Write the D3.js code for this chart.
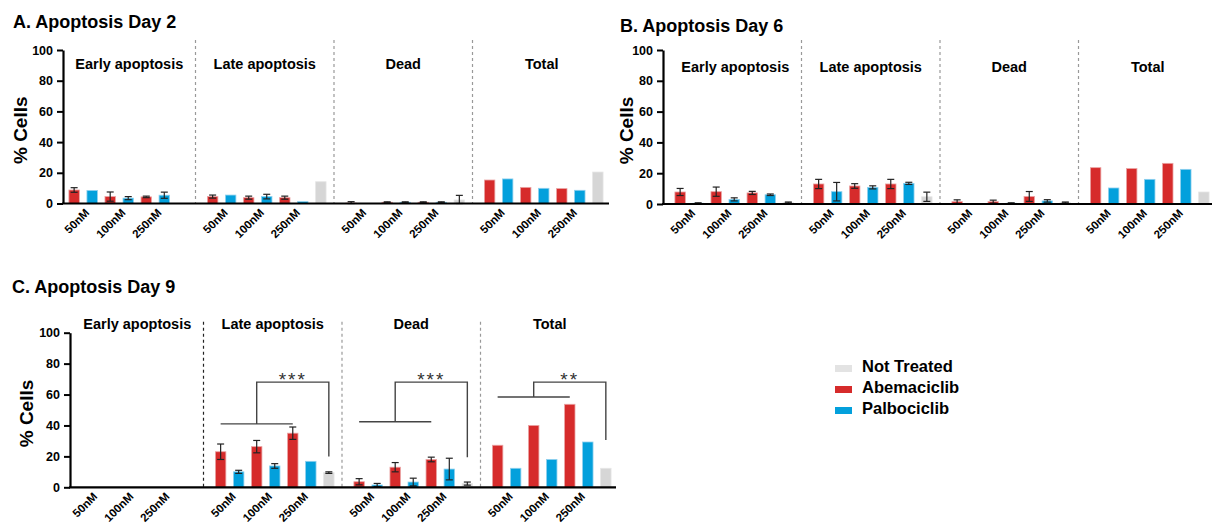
<!DOCTYPE html>
<html>
<head>
<meta charset="utf-8">
<script src="https://cdn.jsdelivr.net/npm/d3@7"></script>
<style>
  body { margin: 0; background: #fff; }
  svg { font-family: "Liberation Sans", Arial, sans-serif; }
</style>
</head>
<body>
<div id="chart"></div>
<script>
// categories
const groups = ["Early apoptosis", "Late apoptosis", "Dead", "Total"];
const doses = ["50nM", "100nM", "250nM"];
const seriesNames = ["Not Treated", "Abemaciclib", "Palbociclib"];
const yTicks = [0, 20, 40, 60, 80, 100];

// Day 2 (per group: 50nM, 100nM, 250nM)
const day2Abema = [[8.8, 4.5, 4.3], [4.5, 3.8, 3.8], [0.3, 0.8, 0.8], [15.3, 10.5, 9.7]];
const day2AbemaErr = [[1.5, 3, 0.5], [1, 1, 1], [0.9, 0.3, 0.3], [0, 0, 0]];
const day2Palbo = [[8.5, 3.5, 5.4], [5.5, 4.5, 1.2], [0, 0.8, 0.8], [16, 9.9, 8.6]];
const day2PalboErr = [[0, 1, 2], [0, 1.5, 0], [0, 0.3, 0.3], [0, 0, 0]];
const day2NT = [0, 14.2, 2.3, 20.5];
const day2NTErr = [0, 0, 3, 0];

// Day 6
const day6Abema = [[7.8, 8, 7.2], [13, 11.7, 13], [1.5, 1.5, 4.9], [23.6, 23, 26.4]];
const day6AbemaErr = [[2.3, 3, 1], [3, 1.5, 3], [1.2, 1, 3.2], [0, 0, 0]];
const day6Palbo = [[0.5, 3, 6], [8, 10.8, 13.4], [0, 0.5, 2], [10.4, 16, 22.5]];
const day6PalboErr = [[0.3, 1, 0.5], [6, 1, 0.7], [0, 0.3, 0.8], [0, 0, 0]];
const day6NT = [1, 4.7, 1, 7.8];
const day6NTErr = [0.3, 3, 0.3, 0];

// Day 9
const day9Abema = [[0, 0, 0], [23, 26.3, 35], [3.6, 13, 18], [27.2, 40, 53.7]];
const day9AbemaErr = [[0, 0, 0], [5, 4, 4], [2, 3, 1.5], [0, 0, 0]];
const day9Palbo = [[0, 0, 0], [10, 13.8, 16.8], [1.5, 3.4, 11.8], [12.3, 18, 29.3]];
const day9PalboErr = [[0, 0, 0], [1, 1.5, 0], [1, 2.5, 7], [0, 0, 0]];
const day9NT = [0, 9.5, 2.4, 12.3];
const day9NTErr = [0, 0.5, 1, 0];

// Day 9 significance brackets
const bracketGroups = ["Late apoptosis", "Dead", "Total"];
const bracketLeft = [41, 42.4, 58.4];
const bracketTop = [68, 68, 68];
const bracketRight = [20, 19.4, 30.6];
const bracketStars = ["***", "***", "**"];

const color = { "Not Treated": "#d6d6d6", "Abemaciclib": "#d62b2b", "Palbociclib": "#03a0dc" };
const edge = { "Not Treated": "#e6e6e6", "Abemaciclib": "#eaa3a3", "Palbociclib": "#8fd0ee" };

const panels = [
  { title: "A. Apoptosis Day 2", titleX: 13, titleY: 28, axisX: 63, x0: 57, x1: 611, xEnd: 609,
    yTop: 50, yBottom: 203.5, labelY: 68.5, sepTop: 40, yLabelX: 27,
    abema: day2Abema, abemaErr: day2AbemaErr, palbo: day2Palbo, palboErr: day2PalboErr, nt: day2NT, ntErr: day2NTErr },
  { title: "B. Apoptosis Day 6", titleX: 620, titleY: 32, axisX: 663, x0: 663, x1: 1217, xEnd: 1212,
    yTop: 50, yBottom: 204, labelY: 71.5, sepTop: 40, yLabelX: 633,
    abema: day6Abema, abemaErr: day6AbemaErr, palbo: day6Palbo, palboErr: day6PalboErr, nt: day6NT, ntErr: day6NTErr },
  { title: "C. Apoptosis Day 9", titleX: 12, titleY: 293, axisX: 70, x0: 65, x1: 619, xEnd: 616,
    yTop: 332.7, yBottom: 487.3, labelY: 329, sepTop: 321.7, yLabelX: 33, brackets: true,
    abema: day9Abema, abemaErr: day9AbemaErr, palbo: day9Palbo, palboErr: day9PalboErr, nt: day9NT, ntErr: day9NTErr }
];

const svg = d3.select("#chart").append("svg")
  .attr("width", 1212).attr("height", 526);

panels.forEach(function (p) {
  const g = svg.append("g");

  const y = d3.scaleLinear().domain([0, 100]).range([p.yBottom, p.yTop]);
  const xGroup = d3.scaleBand().domain(groups).range([p.x0, p.x1]);
  const xBar = d3.scaleBand().domain(d3.range(7)).range([0, xGroup.bandwidth()])
    .paddingInner(0.42).paddingOuter(0.55).align(0.6);

  // rows of bars
  const rows = [];
  groups.forEach(function (grp, gi) {
    doses.forEach(function (d, di) {
      rows.push({ group: grp, slot: di * 2, series: "Abemaciclib", value: p.abema[gi][di], err: p.abemaErr[gi][di] });
      rows.push({ group: grp, slot: di * 2 + 1, series: "Palbociclib", value: p.palbo[gi][di], err: p.palboErr[gi][di] });
    });
    rows.push({ group: grp, slot: 6, series: "Not Treated", value: p.nt[gi], err: p.ntErr[gi] });
  });
  const cx = r => xGroup(r.group) + xBar(r.slot) + xBar.bandwidth() / 2;

  // title
  svg.append("text").attr("x", p.titleX).attr("y", p.titleY)
    .attr("font-size", 18).attr("font-weight", "bold").text(p.title);

  // separators
  g.selectAll(".sep").data(groups.slice(1)).enter().append("line")
    .attr("x1", d => xGroup(d)).attr("x2", d => xGroup(d))
    .attr("y1", p.sepTop).attr("y2", y(0))
    .attr("stroke", (d, i) => (p.brackets && i === 0) ? "#222" : "#999")
    .attr("stroke-width", 1.2).attr("stroke-dasharray", "3,3");

  // group labels
  g.selectAll(".glab").data(groups).enter().append("text")
    .attr("x", d => xGroup(d) + xGroup.bandwidth() / 2 + (d === groups[0] ? 3 : 0))
    .attr("y", p.labelY).attr("text-anchor", "middle")
    .attr("font-size", 14.5).attr("font-weight", "bold").text(d => d);

  // bars
  g.selectAll(".bar").data(rows.filter(r => r.value > 0)).enter().append("rect")
    .attr("x", r => xGroup(r.group) + xBar(r.slot))
    .attr("width", xBar.bandwidth())
    .attr("y", r => y(r.value))
    .attr("height", r => y(0) - y(r.value))
    .attr("fill", r => color[r.series])
    .attr("stroke", r => edge[r.series]).attr("stroke-width", 0.8);

  // error bars
  const eb = g.selectAll(".err").data(rows.filter(r => r.err > 0)).enter().append("g")
    .attr("stroke", "#222").attr("stroke-width", 1.2);
  eb.append("line").attr("x1", cx).attr("x2", cx)
    .attr("y1", r => y(Math.max(0, r.value - r.err))).attr("y2", r => y(r.value + r.err));
  eb.append("line").attr("x1", r => cx(r) - 3.5).attr("x2", r => cx(r) + 3.5)
    .attr("y1", r => y(r.value + r.err)).attr("y2", r => y(r.value + r.err));
  eb.append("line").attr("x1", r => cx(r) - 3.5).attr("x2", r => cx(r) + 3.5)
    .attr("y1", r => y(Math.max(0, r.value - r.err))).attr("y2", r => y(Math.max(0, r.value - r.err)));

  // y axis
  const yAxis = g.append("g").attr("transform", `translate(${p.axisX},0)`)
    .call(d3.axisLeft(y).tickValues(yTicks).tickSize(6).tickPadding(4).tickSizeOuter(0));
  yAxis.select(".domain").attr("stroke", "#000").attr("stroke-width", 2.2);
  yAxis.selectAll(".tick line").attr("stroke", "#000").attr("stroke-width", 2);
  yAxis.selectAll(".tick text").attr("font-size", 12.5).attr("font-weight", "bold")
    .attr("font-family", "Liberation Sans, Arial, sans-serif").attr("fill", "#000");

  // x baseline
  g.append("line").attr("x1", p.axisX - 1).attr("x2", p.xEnd)
    .attr("y1", y(0)).attr("y2", y(0)).attr("stroke", "#000").attr("stroke-width", 2.2);

  // dose tick labels
  const labs = [];
  groups.forEach(grp => doses.forEach((d, di) => labs.push({ group: grp, dose: d, slot: di * 2 })));
  g.selectAll(".xlab").data(labs).enter().append("text")
    .attr("transform", d => {
      const xc = xGroup(d.group) + (xBar(d.slot) + xBar(d.slot + 1) + xBar.bandwidth()) / 2 + 7;
      return `translate(${xc},${y(0) + 10}) rotate(-45)`;
    })
    .attr("text-anchor", "end").attr("font-size", 11.5).attr("font-weight", "bold").text(d => d.dose);

  // y label
  svg.append("text")
    .attr("transform", `translate(${p.yLabelX},${(p.yTop + p.yBottom) / 2 + 3.5}) rotate(-90)`)
    .attr("text-anchor", "middle").attr("font-size", 19).attr("font-weight", "bold").text("% Cells");

  // significance brackets
  if (p.brackets) {
    bracketGroups.forEach(function (grp, i) {
      const xa = xGroup(grp) + xBar(0) + xBar.bandwidth() / 2;
      const xb = xGroup(grp) + xBar(4) + xBar.bandwidth() / 2;
      const xm = (xa + xb) / 2;
      const xn = xGroup(grp) + xBar(6) + xBar.bandwidth() / 2;
      const bg = g.append("g").attr("stroke", "#444").attr("stroke-width", 1.4).attr("fill", "none");
      bg.append("line").attr("x1", xa).attr("x2", xb).attr("y1", y(bracketLeft[i])).attr("y2", y(bracketLeft[i]));
      bg.append("path").attr("d", `M${xm},${y(bracketLeft[i])}V${y(bracketTop[i])}H${xn}V${y(bracketRight[i])}`);
      g.append("text").attr("x", (xm + xn) / 2).attr("y", y(bracketTop[i]) + 4)
        .attr("text-anchor", "middle").attr("font-size", 19).attr("fill", "#333")
        .attr("letter-spacing", 2).text(bracketStars[i]);
    });
  }
});

// legend
const legend = svg.append("g").attr("transform", "translate(835,365)");
seriesNames.forEach(function (s, i) {
  legend.append("rect").attr("x", 0).attr("y", i * 21).attr("width", 17).attr("height", 7)
    .attr("fill", s === "Not Treated" ? "#e3e3e3" : color[s]);
  legend.append("text").attr("x", 27).attr("y", i * 21 + 7).attr("font-size", 16.5)
    .attr("font-weight", "bold").text(s);
});
</script>
</body>
</html>
